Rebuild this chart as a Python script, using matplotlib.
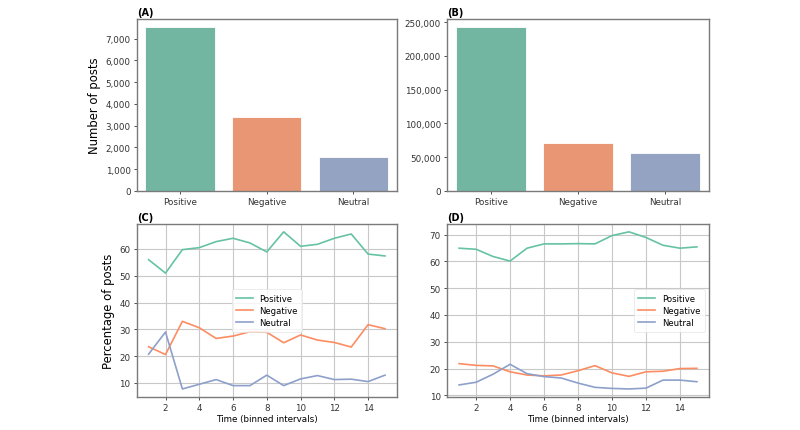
import colorsys
import matplotlib
matplotlib.use("Agg")
import matplotlib.pyplot as plt
import matplotlib.colors as mcolors
from matplotlib.ticker import FuncFormatter

categories = ["Positive", "Negative", "Neutral"]
counts_a = [7530, 3400, 1550]
counts_b = [242600, 70600, 56200]

time_bins = list(range(1, 16))
c_positive = [56.0, 51.0, 59.75, 60.5, 62.75, 64.0, 62.25, 58.9, 66.4, 61.0, 61.75, 64.0, 65.6, 58.1, 57.4]
c_negative = [23.5, 20.6, 33.0, 30.6, 26.6, 27.5, 29.1, 28.9, 25.0, 27.9, 26.0, 25.1, 23.4, 31.75, 30.25]
c_neutral = [20.75, 29.0, 7.75, 9.5, 11.25, 9.0, 9.0, 12.9, 9.0, 11.5, 12.75, 11.25, 11.4, 10.5, 12.9]

d_positive = [64.9, 64.5, 61.8, 60.1, 64.9, 66.5, 66.5, 66.6, 66.5, 69.6, 71.0, 68.9, 66.0, 64.9, 65.4]
d_negative = [21.85, 21.2, 21.0, 18.8, 17.6, 17.3, 17.6, 19.2, 21.1, 18.4, 17.1, 18.8, 19.0, 20.0, 20.1]
d_neutral = [13.9, 14.9, 17.9, 21.6, 18.1, 17.0, 16.5, 14.6, 13.0, 12.6, 12.4, 12.7, 15.7, 15.7, 15.1]

base_colors = ["#66c2a5", "#fc8d62", "#8da0cb"]


def desat(c, s=0.75):
    r, g, b = mcolors.to_rgb(c)
    h, l, sat = colorsys.rgb_to_hls(r, g, b)
    return colorsys.hls_to_rgb(h, l, sat * s)


bar_colors = [desat(c) for c in base_colors]

plt.rcParams["font.family"] = "DejaVu Sans"
fig = plt.figure(figsize=(8.0, 4.31), dpi=100)

TICK = 6.3
SPINE = "#7a7a7a"

axA = fig.add_axes([0.171, 0.555, 0.325, 0.399])
axB = fig.add_axes([0.559, 0.555, 0.327, 0.399])
axC = fig.add_axes([0.171, 0.077, 0.325, 0.401])
axD = fig.add_axes([0.559, 0.077, 0.327, 0.401])

fmt = FuncFormatter(lambda v, p: f"{int(v):,}")

for ax, vals, title in [(axA, counts_a, "(A)"), (axB, counts_b, "(B)")]:
    xs = list(range(len(categories)))
    ax.bar(xs, vals, width=0.8, color=bar_colors, edgecolor="white", linewidth=0.6)
    ax.set_xticks(xs)
    ax.set_xticklabels(categories)
    ax.set_xlim(-0.5, len(categories) - 0.5)
    ax.set_ylim(0, max(vals) * 1.05)
    ax.yaxis.set_major_formatter(fmt)
    ax.set_title(title, loc="left", fontsize=7, fontweight="bold", pad=3)

axA.set_ylabel("Number of posts", fontsize=8.4, labelpad=3)

for ax, pos, neg, neu, title, loc in [
    (axC, c_positive, c_negative, c_neutral, "(C)", "center"),
    (axD, d_positive, d_negative, d_neutral, "(D)", "center right"),
]:
    ax.plot(time_bins, pos, color=base_colors[0], lw=1.2, label="Positive")
    ax.plot(time_bins, neg, color=base_colors[1], lw=1.2, label="Negative")
    ax.plot(time_bins, neu, color=base_colors[2], lw=1.2, label="Neutral")
    ax.set_xticks([2, 4, 6, 8, 10, 12, 14])
    ax.grid(True, color="#c8c8c8", lw=0.8)
    ax.set_axisbelow(True)
    ax.set_xlabel("Time (binned intervals)", fontsize=TICK, labelpad=1.5)
    ax.set_title(title, loc="left", fontsize=7, fontweight="bold", pad=3)
    leg = ax.legend(loc=loc, fontsize=6.1, frameon=True, borderpad=0.5,
                    handlelength=2.0, labelspacing=0.4)
    leg.get_frame().set_linewidth(0.5)
    leg.get_frame().set_edgecolor("#dddddd")

axC.set_ylabel("Percentage of posts", fontsize=8.4, labelpad=3)

for ax in [axA, axB, axC, axD]:
    ax.tick_params(labelsize=TICK, length=2.5, width=0.6, pad=2, colors="#333333")
    for sp in ax.spines.values():
        sp.set_color(SPINE)
        sp.set_linewidth(1.0)

fig.savefig("out.png", dpi=100)
